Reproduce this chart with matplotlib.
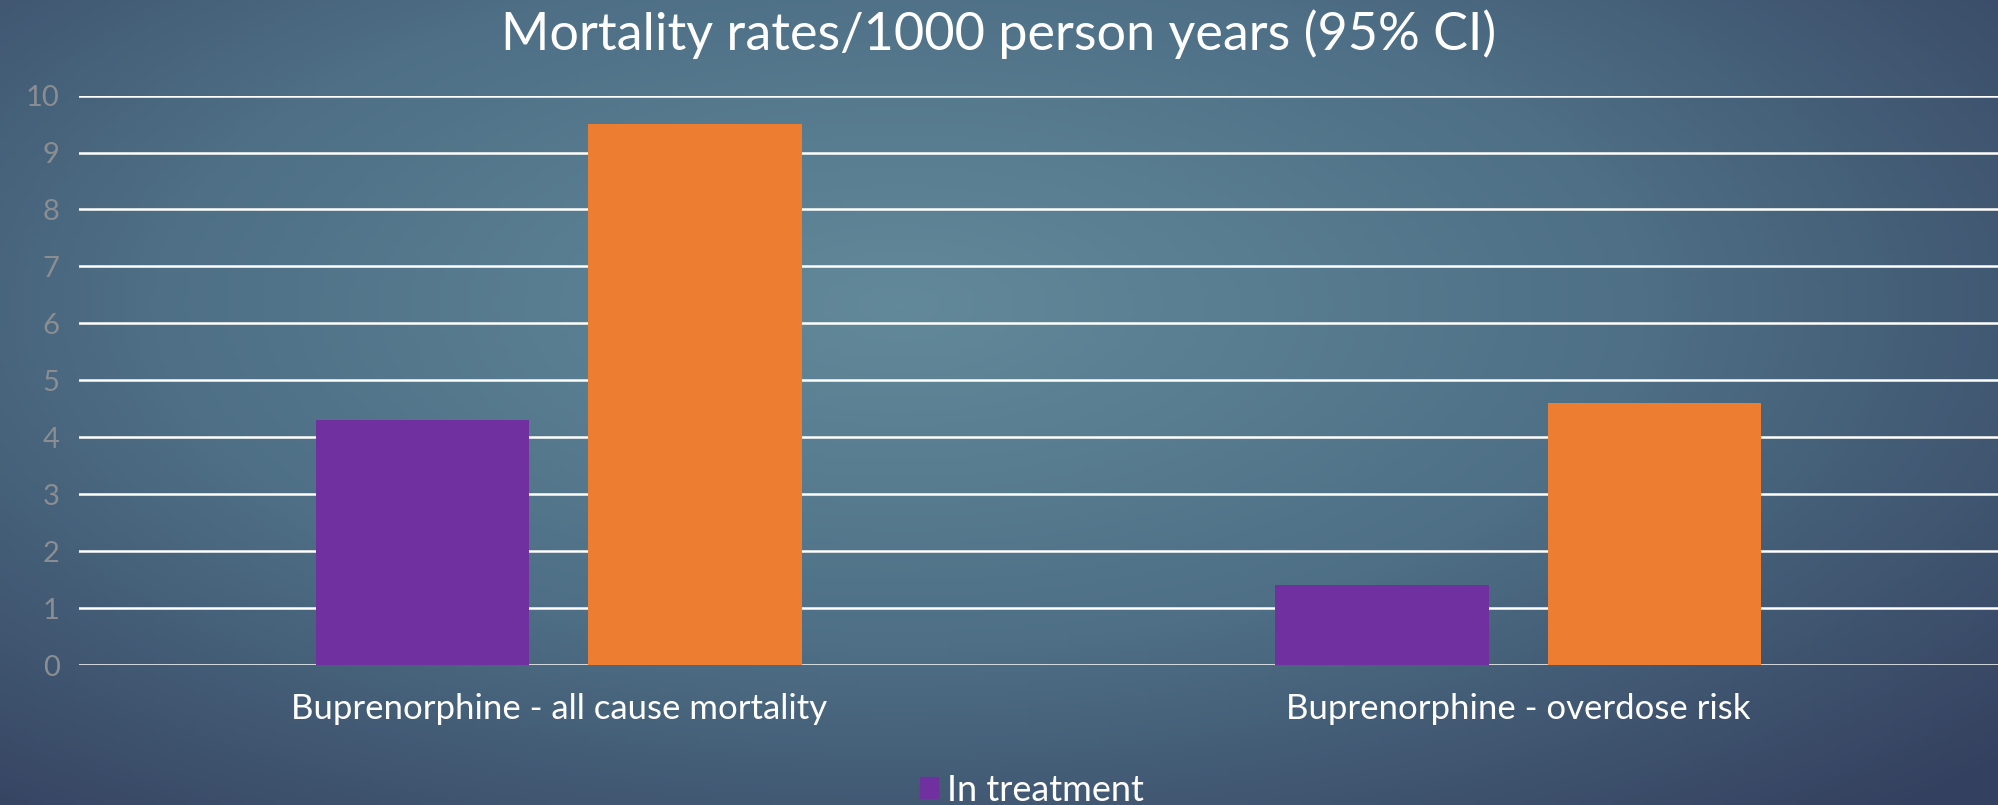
import numpy as np
import matplotlib.pyplot as plt
from matplotlib.colors import LinearSegmentedColormap
from matplotlib.patches import Patch

categories = ["Buprenorphine - all cause mortality", "Buprenorphine - overdose risk"]
in_treatment = [4.3, 1.4]
out_of_treatment = [9.5, 4.6]
y_ticks = [0, 1, 2, 3, 4, 5, 6, 7, 8, 9, 10]

plt.rcParams['font.family'] = ['Lato', 'DejaVu Sans']

fig = plt.figure(figsize=(19.98, 8.05), dpi=100)

# background: radial gradient, light teal in the middle, navy at the edges
bg = fig.add_axes([0, 0, 1, 1], zorder=-10)
gx, gy = np.meshgrid(np.linspace(0, 1, 400), np.linspace(0, 1, 200))
dist = np.sqrt(((gx - 0.45) / 0.75) ** 2 + ((gy - 0.38) / 0.85) ** 2)
cmap = LinearSegmentedColormap.from_list("bg", ["#62899a", "#4e6f86", "#34405f"])
bg.imshow(np.clip(dist, 0, 1), cmap=cmap, extent=[0, 1, 0, 1], origin="upper",
          aspect="auto", vmin=0, vmax=1)
bg.axis("off")

ax = fig.add_axes([79 / 1998, 1 - 665 / 805, 1 - 79 / 1998, (665 - 95.6) / 805])
ax.patch.set_alpha(0)

x = np.arange(len(categories))
w = 0.223
off = 0.142
ax.bar(x - off, in_treatment, w, color="#7030a0", zorder=3, label="In treatment")
ax.bar(x + off, out_of_treatment, w, color="#ed7d31", zorder=3, label="Out of treatment")

ax.set_xlim(-0.5, 1.5)
ax.set_ylim(0, 10)
ax.set_yticks(y_ticks)
ax.yaxis.grid(True, color="white", lw=1.8, zorder=1)
ax.set_axisbelow(True)
for s in ax.spines.values():
    s.set_visible(False)
ax.tick_params(axis="y", length=0, pad=14, labelsize=21, labelcolor="#8a8d92")
ax.tick_params(axis="x", length=0, pad=20, labelsize=25, labelcolor="white")
ax.set_xticks(x)
ax.set_xticklabels(categories)

fig.text(0.5, 0.958, "Mortality rates/1000 person years (95% CI)", ha="center", va="center",
         fontsize=37.5, color="white")

fig.legend(handles=[Patch(color="#7030a0", label="In treatment")], loc="center",
           bbox_to_anchor=(1032 / 1998, 1 - 790 / 805), frameon=False,
           labelcolor="white", handlelength=0.5, handleheight=0.5, handletextpad=0.25,
           prop={"size": 26})

fig.savefig("out.png", dpi=100)
